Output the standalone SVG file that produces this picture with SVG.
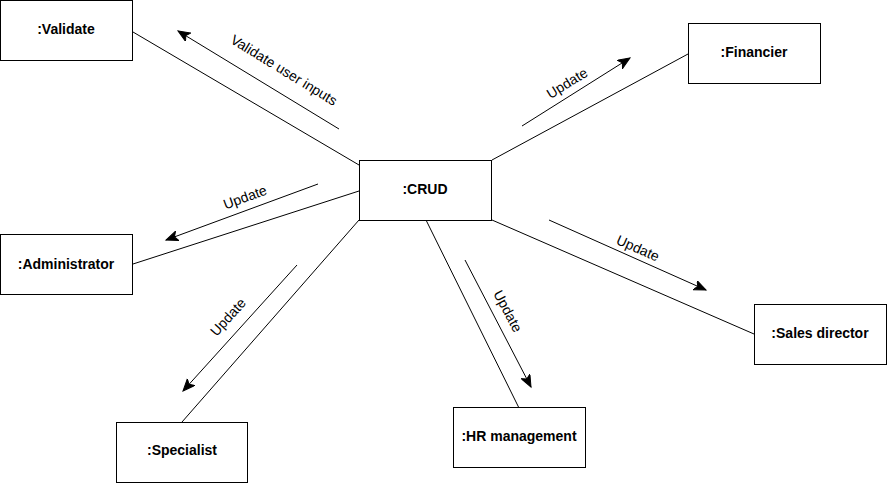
<svg xmlns="http://www.w3.org/2000/svg" width="887" height="483" viewBox="0 0 887 483">
<style>
.box{fill:#fff;stroke:#000;stroke-width:1}
.nt{font-family:"Liberation Sans",Arial,sans-serif;font-size:14px;font-weight:bold;fill:#000;text-anchor:middle;dominant-baseline:central}
.ln{stroke:#000;stroke-width:1;fill:none}
.ar{stroke:#000;stroke-width:1;fill:none;marker-end:url(#arr)}
.lb{font-family:"Liberation Sans",Arial,sans-serif;font-size:14px;fill:#000;text-anchor:middle;dominant-baseline:central}
</style>
<defs>
<marker id="arr" markerUnits="userSpaceOnUse" markerWidth="14" markerHeight="12" refX="12" refY="5" orient="auto" viewBox="0 0 14 12">
<path d="M0,0 L12,5 L0,10 L3,5 Z" fill="#000" stroke="#000" stroke-width="1"/>
</marker>
</defs>
<rect width="887" height="483" fill="#fff"/>
<g id="connectors">
<line class="ln" x1="133" y1="32" x2="359" y2="165"/>
<line class="ln" x1="688" y1="54" x2="492" y2="160"/>
<line class="ln" x1="133" y1="264" x2="359" y2="191"/>
<line class="ln" x1="359" y1="220" x2="182" y2="422"/>
<line class="ln" x1="426" y1="220" x2="519" y2="408"/>
<line class="ln" x1="492" y1="220" x2="754" y2="334"/>
<line class="ar" x1="339" y1="129" x2="178" y2="31"/>
<line class="ar" x1="522" y1="126" x2="630" y2="58"/>
<line class="ar" x1="318" y1="184" x2="166" y2="240"/>
<line class="ar" x1="297" y1="265" x2="183" y2="391"/>
<line class="ar" x1="465" y1="260" x2="531" y2="387"/>
<line class="ar" x1="549" y1="220" x2="706" y2="290"/>
<text class="lb" transform="translate(284,70) rotate(31.5)">Validate user inputs</text>
<text class="lb" transform="translate(567,83) rotate(-32)">Update</text>
<text class="lb" transform="translate(245,197) rotate(-20)">Update</text>
<text class="lb" transform="translate(638,248) rotate(24)">Update</text>
<text class="lb" transform="translate(228,317) rotate(-48)">Update</text>
<text class="lb" transform="translate(508,311) rotate(62)">Update</text>
</g>
<g id="validate"><rect class="box" x="0.5" y="0.5" width="132" height="60"/><text class="nt" x="66" y="29">:Validate</text></g>
<g id="financier"><rect class="box" x="688.5" y="23.5" width="132" height="60"/><text class="nt" x="754" y="52">:Financier</text></g>
<g id="crud"><rect class="box" x="359.5" y="160.5" width="132" height="60"/><text class="nt" x="425" y="189">:CRUD</text></g>
<g id="administrator"><rect class="box" x="0.5" y="234.5" width="132" height="60"/><text class="nt" x="66" y="264">:Administrator</text></g>
<g id="sales-director"><rect class="box" x="754.5" y="304.5" width="132" height="60"/><text class="nt" x="820" y="333">:Sales director</text></g>
<g id="specialist"><rect class="box" x="116.5" y="422.5" width="131" height="60"/><text class="nt" x="182" y="450">:Specialist</text></g>
<g id="hr-management"><rect class="box" x="453.5" y="407.5" width="132" height="60"/><text class="nt" x="519" y="436">:HR management</text></g>
</svg>
